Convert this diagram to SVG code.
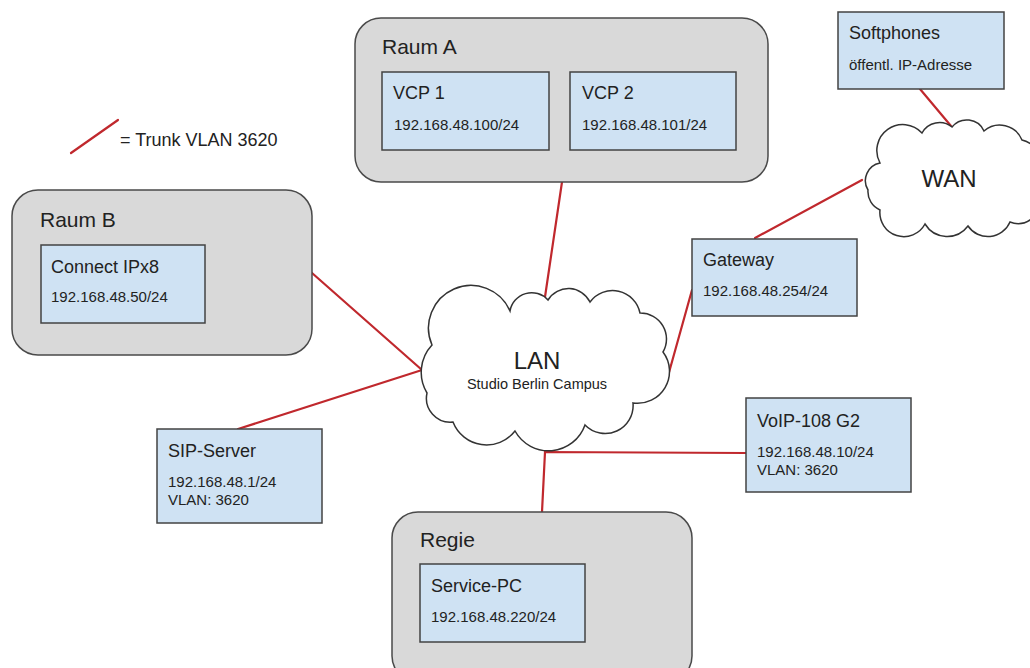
<svg xmlns="http://www.w3.org/2000/svg" width="1030" height="668" viewBox="0 0 1030 668">
<style>
.room{fill:#d9d9d9;stroke:#4a4a4a;stroke-width:1.5}
.dev{fill:#cfe2f3;stroke:#434343;stroke-width:1.5}
.cloud{fill:#ffffff;stroke:#333333;stroke-width:1.5}
.link{fill:none;stroke:#c0282d;stroke-width:2.2;stroke-linecap:round;stroke-linejoin:miter}
text{font-family:"Liberation Sans",Arial,sans-serif;fill:#222222}
.rt{font-size:21px}
.dt{font-size:18px}
.ip{font-size:15px}
.big{font-size:24px}
</style>
<rect width="1030" height="668" fill="#ffffff"/>

<g id="connectors">
<line class="link" x1="562" y1="182" x2="545" y2="297"/>
<line class="link" x1="312" y1="273" x2="422" y2="370"/>
<line class="link" x1="238" y1="429" x2="422" y2="370"/>
<line class="link" x1="692" y1="290" x2="668" y2="376"/>
<polyline class="link" points="542,512 545,452 746,453"/>
<line class="link" x1="755" y1="238" x2="862" y2="180"/>
<line class="link" x1="920" y1="89" x2="951" y2="126"/>
</g>

<g id="legend">
<line class="link" x1="71" y1="153" x2="118" y2="120"/>
<text x="120" y="146" style="font-size:18px">= Trunk VLAN 3620</text>
</g>

<g id="raum-a">
<rect class="room" x="355" y="18" width="413" height="164" rx="26"/>
<text class="rt" x="382" y="54">Raum A</text>
</g>
<g id="vcp1">
<rect class="dev" x="382" y="72" width="167" height="78"/>
<text class="dt" x="393" y="99">VCP 1</text>
<text class="ip" x="394" y="130">192.168.48.100/24</text>
</g>
<g id="vcp2">
<rect class="dev" x="570" y="72" width="166" height="78"/>
<text class="dt" x="582" y="99">VCP 2</text>
<text class="ip" x="582" y="130">192.168.48.101/24</text>
</g>

<g id="softphones">
<rect class="dev" x="838" y="12" width="166" height="77"/>
<text class="dt" x="849" y="39">Softphones</text>
<text class="ip" x="849" y="70">öffentl. IP-Adresse</text>
</g>

<g id="wan">
<path class="cloud" d="M880,163 A26,26 0 0 1 922,133 A20,20 0 0 1 952,127 A19,19 0 0 1 984,131 A24,24 0 0 1 1022,140 A26,26 0 0 1 1040,175 L1040,200 A22,22 0 0 1 1010,222 A24,24 0 0 1 968,226 A26,26 0 0 1 925,224 A24,24 0 0 1 880,210 A20,20 0 0 1 868,190 A18,18 0 0 1 880,163 Z"/>
<text class="big" x="949" y="187" text-anchor="middle">WAN</text>
</g>

<g id="raum-b">
<rect class="room" x="12" y="190" width="300" height="165" rx="26"/>
<text class="rt" x="40" y="227">Raum B</text>
</g>
<g id="connect-ipx8">
<rect class="dev" x="41" y="245" width="164" height="78"/>
<text class="dt" x="51" y="273">Connect IPx8</text>
<text class="ip" x="51" y="302">192.168.48.50/24</text>
</g>

<g id="lan">
<path class="cloud" d="M432,345 A42,42 0 0 1 510,311 A22,22 0 0 1 548,300 A24,24 0 0 1 590,302 A28,28 0 0 1 640,313 A26,26 0 0 1 663,352 A32,32 0 0 1 633,403 A28,28 0 0 1 585,425 A38.5,38.5 0 0 1 515,431 A36,36 0 0 1 453,422 A24,24 0 0 1 427,393 A40,40 0 0 1 432,345 Z"/>
<text class="big" x="537" y="369" text-anchor="middle">LAN</text>
<text x="537" y="389" text-anchor="middle" style="font-size:14.5px">Studio Berlin Campus</text>
</g>

<g id="gateway">
<rect class="dev" x="692" y="239" width="165" height="77"/>
<text class="dt" x="703" y="266">Gateway</text>
<text class="ip" x="703" y="296">192.168.48.254/24</text>
</g>

<g id="voip">
<rect class="dev" x="746" y="398" width="165" height="94"/>
<text class="dt" x="757" y="427">VoIP-108 G2</text>
<text class="ip" x="757" y="457">192.168.48.10/24</text>
<text class="ip" x="757" y="475">VLAN: 3620</text>
</g>

<g id="sip-server">
<rect class="dev" x="157" y="429" width="165" height="94"/>
<text class="dt" x="168" y="457">SIP-Server</text>
<text class="ip" x="168" y="487">192.168.48.1/24</text>
<text class="ip" x="168" y="505">VLAN: 3620</text>
</g>

<g id="regie">
<rect class="room" x="392" y="512" width="300" height="170" rx="26"/>
<text class="rt" x="420" y="547">Regie</text>
</g>
<g id="service-pc">
<rect class="dev" x="420" y="564" width="165" height="78"/>
<text class="dt" x="431" y="592">Service-PC</text>
<text class="ip" x="431" y="622">192.168.48.220/24</text>
</g>
</svg>
